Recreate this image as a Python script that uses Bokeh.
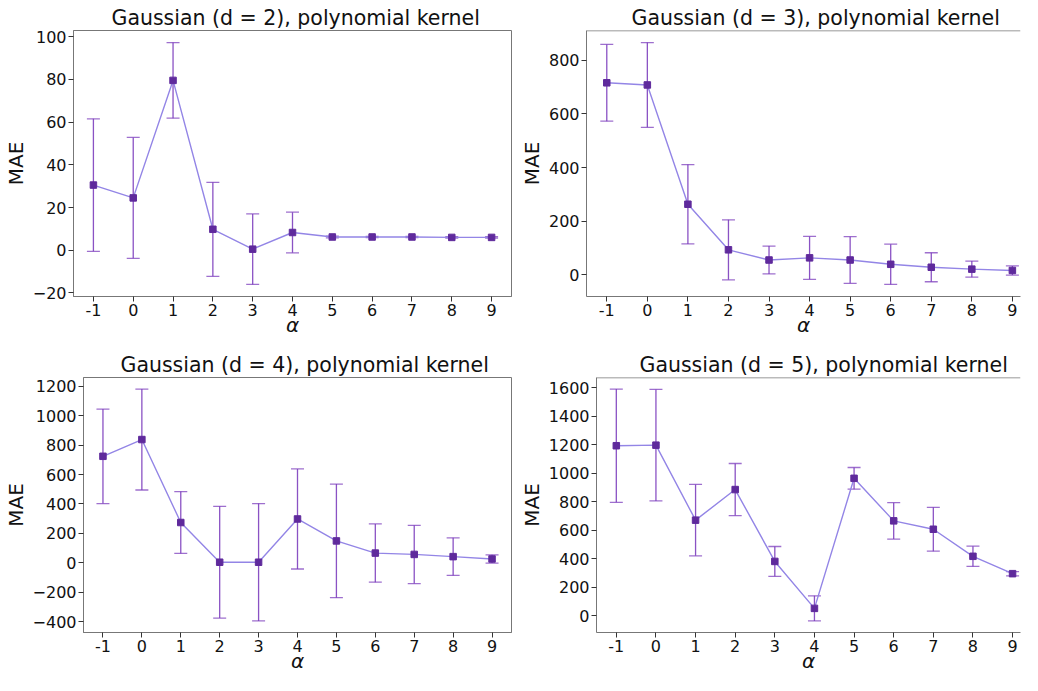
from bokeh.plotting import figure
from bokeh.layouts import row, column
from bokeh.models import (ColumnDataSource, Whisker, TeeHead, FixedTicker, Range1d,
                          Span, CustomJSTickFormatter)
from bokeh.embed import file_html
from bokeh.resources import INLINE

# ---------------- data ----------------
alphas = [-1, 0, 1, 2, 3, 4, 5, 6, 7, 8, 9]

titles = ["Gaussian (d = 2), polynomial kernel",
          "Gaussian (d = 3), polynomial kernel",
          "Gaussian (d = 4), polynomial kernel",
          "Gaussian (d = 5), polynomial kernel"]

mae_d2 = [30.5, 24.5, 79.5, 9.8, 0.5, 8.3, 6.2, 6.2, 6.2, 6.0, 6.0]
err_d2 = [31.0, 28.3, 17.7, 22.0, 16.5, 9.5, 0.4, 0.3, 0.3, 0.3, 0.3]

mae_d3 = [716, 708, 263, 93, 55, 63, 55, 39, 28, 21, 16]
err_d3 = [143, 158, 148, 112, 52, 80, 87, 75, 54, 30, 17]

mae_d4 = [724, 838, 274, 4, 4, 298, 149, 66, 57, 42, 26]
err_d4 = [321, 343, 210, 380, 399, 340, 386, 198, 198, 128, 28]

mae_d5 = [1193, 1197, 670, 885, 380, 50, 964, 665, 606, 416, 294]
err_d5 = [398, 392, 251, 183, 105, 88, 76, 128, 154, 71, 15]

yticks_d2 = [-20, 0, 20, 40, 60, 80, 100]
yticks_d3 = [0, 200, 400, 600, 800]
yticks_d4 = [-400, -200, 0, 200, 400, 600, 800, 1000, 1200]
yticks_d5 = [0, 200, 400, 600, 800, 1000, 1200, 1400, 1600]

# ---------------- style ----------------
FONT = "DejaVu Sans"
LINE_C = "#9385e6"
MARK_C = "#5f2a9c"
ERR_C = "#7d3fbe"
SPINE_C = "#777777"


def panel(title, means, errs, yticks, width, height, bl, bt, bb, br, x_end,
          clipped_right, title_off):
    upper = [m + e for m, e in zip(means, errs)]
    lower = [m - e for m, e in zip(means, errs)]
    lo, hi = min(lower), max(upper)
    pad = 0.05 * (hi - lo)
    src = ColumnDataSource(dict(x=alphas, y=means, upper=upper, lower=lower))

    p = figure(width=width, height=height, output_backend="svg", toolbar_location=None,
               x_range=Range1d(-1.5, x_end), y_range=Range1d(lo - pad, hi + pad),
               min_border_left=bl, min_border_top=bt, min_border_bottom=bb,
               min_border_right=br)
    p.grid.visible = False
    p.background_fill_color = "white"
    p.border_fill_color = "white"
    if clipped_right:
        p.outline_line_color = None
        p.add_layout(Span(location=hi + pad, dimension="width",
                          line_color=SPINE_C, line_width=1.5))
    else:
        p.outline_line_color = SPINE_C
        p.outline_line_width = 1

    p.title.text = title
    p.title.text_font = FONT
    p.title.text_font_size = "20.5px"
    p.title.text_font_style = "normal"
    p.title.text_color = "#111111"
    p.title.align = "left"
    p.title.offset = title_off
    p.title.standoff = 1

    for ax in (p.xaxis[0], p.yaxis[0]):
        ax.axis_line_color = SPINE_C
        ax.axis_line_width = 1
        ax.major_tick_line_color = "#333333"
        ax.major_tick_out = 5
        ax.major_tick_in = 0
        ax.minor_tick_line_color = None
        ax.major_label_text_font = FONT
        ax.major_label_text_font_size = "16px"
        ax.major_label_text_color = "#111111"
        ax.major_label_standoff = 2
        ax.axis_label_text_font = FONT
        ax.axis_label_text_font_size = "20px"
        ax.axis_label_text_color = "#111111"

    p.xaxis.ticker = FixedTicker(ticks=alphas)
    p.xaxis.formatter = CustomJSTickFormatter(code="return tick.toString();")
    p.xaxis.axis_label = "\u03b1"
    p.xaxis.axis_label_text_font_style = "italic"
    p.xaxis.axis_label_standoff = -6
    p.yaxis.ticker = FixedTicker(ticks=yticks)
    p.yaxis.formatter = CustomJSTickFormatter(
        code="return tick < 0 ? '\u2212' + (-tick) : '' + tick;")
    p.yaxis.axis_label = "MAE"
    p.yaxis.axis_label_text_font_style = "normal"
    p.yaxis.axis_label_standoff = 2

    p.line("x", "y", source=src, line_color=LINE_C, line_width=1.4)
    p.add_layout(Whisker(base="x", upper="upper", lower="lower", source=src,
                         dimension="height", line_color=ERR_C, line_width=1.3,
                         line_alpha=0.9,
                         upper_head=TeeHead(size=13, line_color=ERR_C, line_width=1.3,
                                            line_alpha=0.75),
                         lower_head=TeeHead(size=13, line_color=ERR_C, line_width=1.3,
                                            line_alpha=0.75)))
    p.scatter("x", "y", source=src, marker="square", size=6.5,
              fill_color=MARK_C, line_color=MARK_C)
    return p


p1 = panel(titles[0], mae_d2, err_d2, yticks_d2, 516, 339, 30, 30, 41, 5, 9.5, False, 38)
p2 = panel(titles[1], mae_d3, err_d3, yticks_d3, 506, 339, 65, 30, 41, 2, 9.2, True, 45)
p3 = panel(titles[2], mae_d4, err_d4, yticks_d4, 516, 336, 74, 38, 41, 5, 9.5, False, 37)
p4 = panel(titles[3], mae_d5, err_d5, yticks_d5, 506, 336, 75, 38, 41, 2, 9.2, True, 43)
p1.min_border_left = 65

layout = column(row(p1, p2, spacing=0), row(p3, p4, spacing=0), spacing=0)

open("out.html", "w").write(file_html(layout, INLINE))
